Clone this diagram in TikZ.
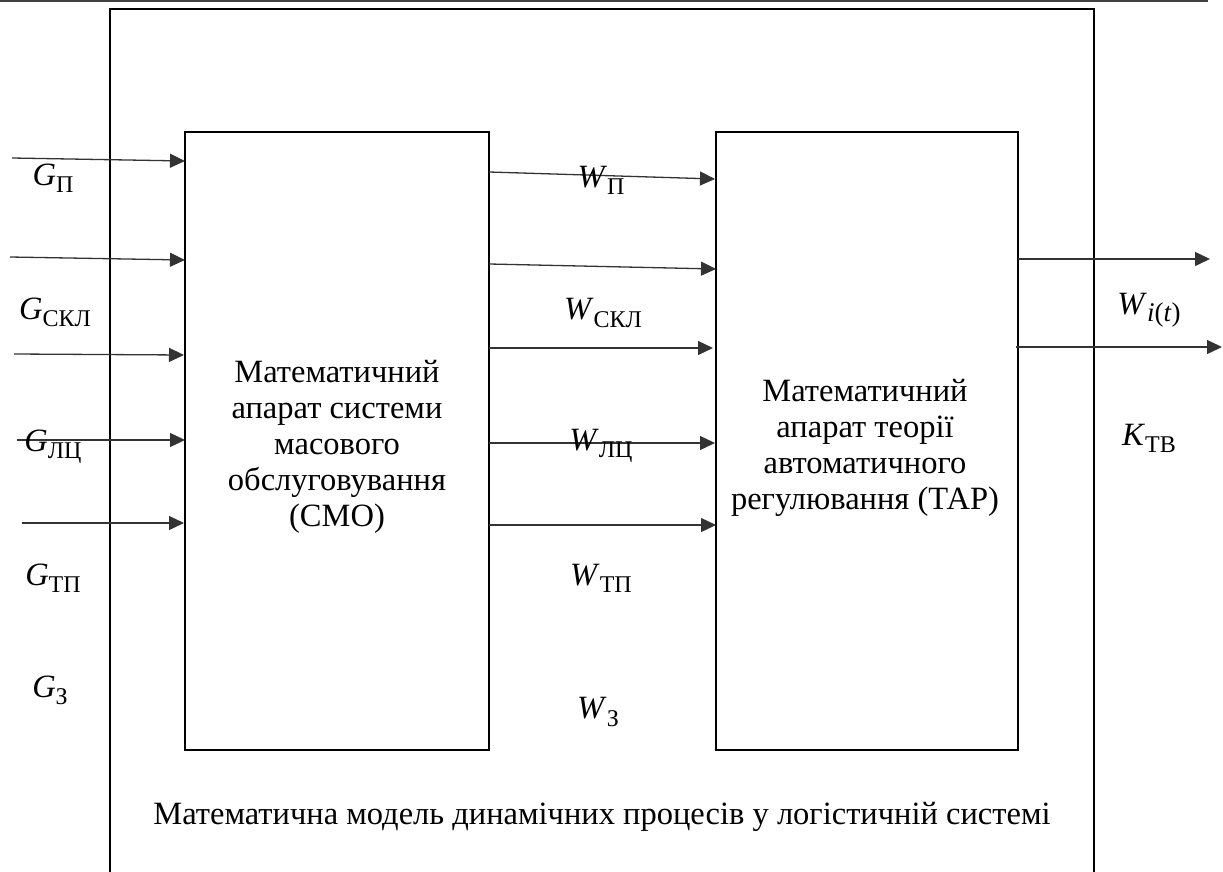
\documentclass[tikz,border=0pt]{standalone}
\usepackage{fontspec}
\setmainfont{Liberation Serif}
\usetikzlibrary{arrows.meta}
\newcommand{\lbl}[2]{\textit{#1}\raisebox{-0.22em}{\fontsize{24}{24}\selectfont #2}}
\begin{document}
\begin{tikzpicture}[x=1pt,y=-1pt,
  box/.style={draw=black, line width=2pt, inner sep=0pt},
  boxtext/.style={align=center, inner sep=0pt, font=\fontsize{32.5}{36}\selectfont},
  flow/.style={draw=black!80, line width=1.3pt, -{Triangle[length=15pt,width=14pt]}},
  lab/.style={font=\fontsize{32.5}{36}\selectfont, inner sep=0pt},
  frame/.style={draw=black, line width=2pt},
]
\useasboundingbox (0,0) rectangle (1223,872);
% top rule
\draw[black!75, line width=1.5pt] (0,1) -- (1208,1);
% outer frame
\draw[frame] (110,874) -- (110,9) -- (1094,9) -- (1094,874);
% blocks
\node[box, minimum width=304pt, minimum height=618pt] (smo) at (337,441) {};
\node[boxtext] (smotxt) at (337,447)
  {Математичний\\апарат системи\\масового\\обслуговування\\(СМО)};
\node[box, minimum width=302pt, minimum height=618pt] (tap) at (867,441) {};
\node[boxtext] (taptxt) at (865,448)
  {Математичний\\апарат теорії\\автоматичного\\регулювання (ТАР)};
% caption
\node[lab] (caption) at (602,817) {Математична модель динамічних процесів у логістичній системі};
% input free ends
\coordinate (i1) at (12,158);
\coordinate (i2) at (10,257);
\coordinate (i3) at (14,354);
\coordinate (i4) at (17,440);
\coordinate (i5) at (22,523);
\coordinate (j1) at (185,161);
\coordinate (j2) at (185,260);
\coordinate (j3) at (184,355);
\coordinate (j4) at (185,440);
\coordinate (j5) at (184,523);
\foreach \k in {1,...,5} \draw[flow] (i\k) -- (j\k);
% middle connectors
\coordinate (m1s) at (489,172); \coordinate (m1e) at (715,179);
\coordinate (m2s) at (489,264); \coordinate (m2e) at (716,269);
\coordinate (m3s) at (489,348); \coordinate (m3e) at (713,348);
\coordinate (m4s) at (489,443); \coordinate (m4e) at (715,443);
\coordinate (m5s) at (489,525); \coordinate (m5e) at (716,525);
\foreach \k in {1,...,5} \draw[flow] (m\k s) -- (m\k e);
% outputs
\coordinate (o1s) at (1018,259); \coordinate (o1e) at (1210,259);
\coordinate (o2s) at (1016,347); \coordinate (o2e) at (1222,347);
\draw[flow] (o1s) -- (o1e);
\draw[flow] (o2s) -- (o2e);
% labels
\node[lab] (gP) at (53,178) {\lbl{G}{П}};
\node[lab] (gSKL) at (55,312) {\lbl{G}{СКЛ}};
\node[lab] (gLC) at (53,447) {\lbl{G}{ЛЦ}};
\node[lab] (gTP) at (53,578) {\lbl{G}{ТП}};
\node[lab] (gZ) at (50,690) {\lbl{G}{З}};
\node[lab] (wP) at (601,180) {\lbl{W}{П}};
\node[lab] (wSKL) at (603,313) {\lbl{W}{СКЛ}};
\node[lab] (wLC) at (601,446) {\lbl{W}{ЛЦ}};
\node[lab] (wTP) at (601,578) {\lbl{W}{ТП}};
\node[lab] (wZ) at (598,712) {\lbl{W}{З}};
\node[lab] (wit) at (1149,310) {\textit{W}\raisebox{-0.22em}{\fontsize{27}{27}\selectfont\textit{i}(\textit{t})}};
\node[lab] (ktv) at (1149,438) {\lbl{K}{ТВ}};
\end{tikzpicture}
\end{document}
